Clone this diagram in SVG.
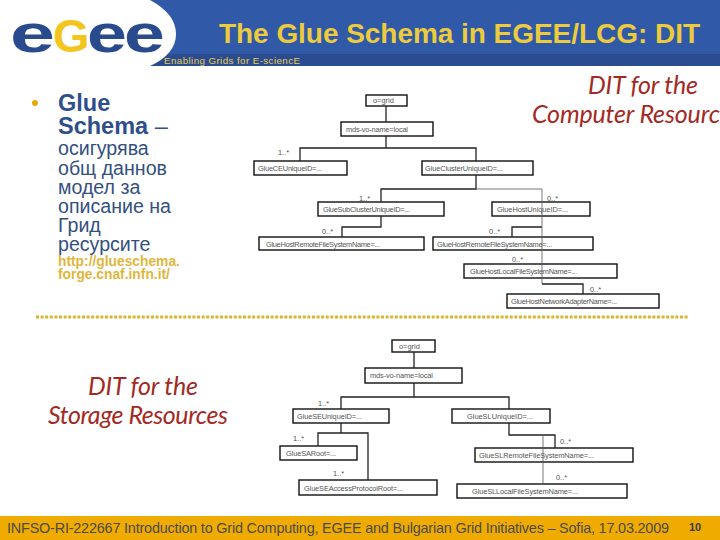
<svg xmlns="http://www.w3.org/2000/svg" width="720" height="540" viewBox="0 0 720 540">
<style>
text{font-family:"Liberation Sans",Arial,sans-serif}
.box{fill:#fff;stroke:#111;stroke-width:1.4}
.bt{font-size:7.4px;fill:#555}
.card{font-size:7.4px;fill:#555}
.c{fill:none;stroke:#222;stroke-width:1.3}
.thin{fill:none;stroke:#555;stroke-width:.8}
.hand{font-family:"Lato","Noto Sans",cursive;font-style:italic;font-size:25px;fill:#a32a24}
.body{font-size:19.6px;fill:#34507f}
.head{font-size:23.5px;font-weight:bold;fill:#2f4f8c}
.link{font-size:13.8px;font-weight:bold;fill:#dfb63c}
.logo{font-size:54px;font-weight:bold;fill:#2a4a8e}
</style>
<rect width="720" height="540" fill="#fff"/>
<g id="header">
<rect x="140" y="0" width="580" height="54" fill="#3059a8"/>
<rect x="140" y="54" width="580" height="12" fill="#2b4c90"/>
<path d="M0 0H150Q176 14 176 34Q176 54 150 66H0Z" fill="#fff"/>
<text class="logo" transform="translate(10 52) scale(1.5 1)">e</text>
<text class="logo" x="53" y="52" style="fill:#f2c61c;font-size:47px">G</text>
<text class="logo" transform="translate(87 52) scale(1.33 1)">e</text>
<text class="logo" transform="translate(124 52) scale(1.36 1)">e</text>
<text x="219" y="43" font-size="28" font-weight="bold" fill="#eccb3c" textLength="481">The Glue Schema in EGEE/LCG: DIT</text>
<text x="164" y="64" font-size="9.800" fill="#e8cc50" textLength="136">Enabling Grids for E-sciencE</text>
</g>
<g id="left-text">
<circle cx="35" cy="103" r="3" fill="#e8a80c"/>
<text class="head" x="58" y="111">Glue</text>
<text class="head" x="58" y="134">Schema <tspan font-weight="normal">–</tspan></text>
<text class="body" x="58" y="155">осигурява</text>
<text class="body" x="58" y="175">общ даннов</text>
<text class="body" x="58" y="194">модел за</text>
<text class="body" x="58" y="213">описание на</text>
<text class="body" x="58" y="232">Грид</text>
<text class="body" x="58" y="251">ресурсите</text>
<text class="link" x="58" y="266">http://glueschema.</text>
<text class="link" x="58" y="279">forge.cnaf.infn.it/</text>
</g>
<text class="hand" x="588" y="94" textLength="110">DIT for the</text>
<text class="hand" x="532" y="123" textLength="188">Computer Resourc</text>
<text class="hand" x="88" y="395" textLength="110">DIT for the</text>
<text class="hand" x="48" y="424" textLength="180">Storage Resources</text>
<line x1="36" y1="317" x2="688" y2="317" stroke="#d9b52e" stroke-width="3" stroke-dasharray="3 1.6"/>

<g id="dit1-grid"><rect class="box" x="366" y="95" width="41" height="11"/><text class="bt" x="373" y="103">o=grid</text></g>
<g id="dit1-mds"><rect class="box" x="341" y="122" width="92" height="14"/><text class="bt" x="346" y="132" textLength="62">mds-vo-name=local</text></g>
<g id="dit1-ce"><rect class="box" x="254" y="161" width="93" height="14"/><text class="bt" x="258" y="171" textLength="64">GlueCEUniqueID=...</text></g>
<g id="dit1-cluster"><rect class="box" x="422" y="161" width="111" height="14"/><text class="bt" x="425" y="171" textLength="78">GlueClusterUniqueID=...</text></g>
<g id="dit1-sub"><rect class="box" x="318" y="202" width="126" height="14"/><text class="bt" x="323" y="212" textLength="87">GlueSubClusterUniqueID=...</text></g>
<g id="dit1-host"><rect class="box" x="492" y="202" width="98" height="14"/><text class="bt" x="497" y="212" textLength="71">GlueHostUniqueID=...</text></g>
<g id="dit1-remote1"><rect class="box" x="259" y="237" width="165" height="13"/><text class="bt" x="266" y="247" textLength="114">GlueHostRemoteFileSystemName=...</text></g>
<g id="dit1-remote2"><rect class="box" x="433" y="237" width="160" height="13"/><text class="bt" x="437" y="247" textLength="115">GlueHostRemoteFileSystemName=...</text></g>
<g id="dit1-local"><rect class="box" x="464" y="264" width="153" height="14"/><text class="bt" x="470" y="274" textLength="107">GlueHostLocalFileSystemName=...</text></g>
<g id="dit1-net"><rect class="box" x="507" y="294" width="152" height="14"/><text class="bt" x="511" y="304" textLength="106">GlueHostNetworkAdapterName=...</text></g>

<g id="dit2-grid"><rect class="box" x="392" y="340" width="43" height="12"/><text class="bt" x="399" y="349">o=grid</text></g>
<g id="dit2-mds"><rect class="box" x="365" y="368" width="97" height="15"/><text class="bt" x="370" y="378" textLength="63">mds-vo-name=local</text></g>
<g id="dit2-se"><rect class="box" x="293" y="409" width="96" height="14"/><text class="bt" x="297" y="419" textLength="65">GlueSEUniqueID=...</text></g>
<g id="dit2-sl"><rect class="box" x="452" y="409" width="98" height="14"/><text class="bt" x="467" y="419" textLength="66">GlueSLUniqueID=...</text></g>
<g id="dit2-sa"><rect class="box" x="280" y="446" width="77" height="14"/><text class="bt" x="286" y="456" textLength="50">GlueSARoot=...</text></g>
<g id="dit2-access"><rect class="box" x="299" y="480" width="138" height="15"/><text class="bt" x="304" y="491" textLength="99">GlueSEAccessProtocolRoot=...</text></g>
<g id="dit2-slremote"><rect class="box" x="475" y="448" width="158" height="14"/><text class="bt" x="479" y="458" textLength="115">GlueSLRemoteFileSystemName=...</text></g>
<g id="dit2-sllocal"><rect class="box" x="457" y="484" width="170" height="14"/><text class="bt" x="472" y="494" textLength="106">GlueSLLocalFileSystemName=...</text></g>

<g id="connectors">
<path class="c" d="M386 106V122M386 136V148M300 161V148H476V161"/>
<path class="c" d="M476 175V189H381V202M381 216V227H342V237"/>
<path class="thin" d="M476 189H542V216"/>
<path class="c" d="M542 227H512V237"/>
<path class="thin" d="M542 216V284"/>
<path class="c" d="M542 284H583V294"/>
<path class="c" d="M414 352V368M414 383V397M341 409V397H509V409"/>
<path class="c" d="M341 423V433M318 446V433H368V480"/>
<path class="c" d="M509 423V435H555V448"/>
<path class="thin" d="M543 435V484"/>
</g>
<g id="labels">
<text class="card" x="278" y="155">1..*</text>
<text class="card" x="359" y="201">1..*</text>
<text class="card" x="322" y="234">0..*</text>
<text class="card" x="547" y="201">0..*</text>
<text class="card" x="489" y="234">0..*</text>
<text class="card" x="512" y="262">0..*</text>
<text class="card" x="590" y="292">0..*</text>
<text class="card" x="318" y="406">1..*</text>
<text class="card" x="293" y="441">1..*</text>
<text class="card" x="333" y="476">1..*</text>
<text class="card" x="560" y="444">0..*</text>
<text class="card" x="556" y="480">0..*</text>
</g>
<g id="footer">
<rect x="0" y="516" width="720" height="24" fill="#efab00"/>
<text x="7" y="533" font-size="14.4" fill="#4a4a4a" textLength="662">INFSO-RI-222667 Introduction to Grid Computing, EGEE and Bulgarian Grid Initiatives – Sofia, 17.03.2009</text>
<text x="689" y="531" font-size="11" font-weight="bold" fill="#3a3a3a">10</text>
</g>
</svg>
